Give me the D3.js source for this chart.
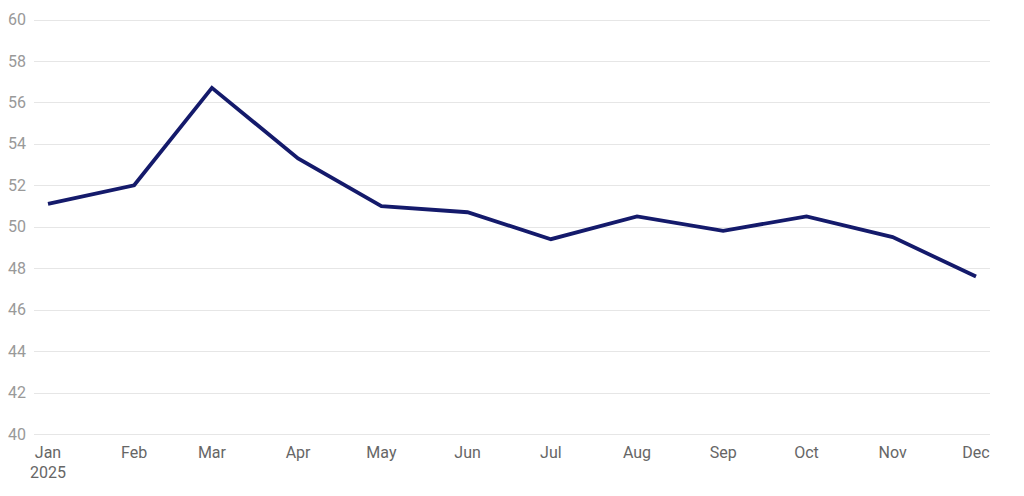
<!DOCTYPE html>
<html><head><meta charset="utf-8">
<script src="https://cdn.jsdelivr.net/npm/d3@7"></script>
<style>body{margin:0;background:#fff;font-family:Roboto,"Liberation Sans",sans-serif}</style>
</head><body><svg id="c" width="1024" height="496"></svg>
<script>
const dates = ["2025-01-01","2025-02-01","2025-03-01","2025-04-01","2025-05-01","2025-06-01","2025-07-01","2025-08-01","2025-09-01","2025-10-01","2025-11-01","2025-12-01"];
const values = [51.1, 52.0, 56.7, 53.3, 51.0, 50.7, 49.4, 50.5, 49.8, 50.5, 49.5, 47.6];
const yTicks = [40,42,44,46,48,50,52,54,56,58,60];
const monthLabels = ["Jan","Feb","Mar","Apr","May","Jun","Jul","Aug","Sep","Oct","Nov","Dec"];

const parse = d3.timeParse("%Y-%m-%d");
const data = dates.map((d,i)=>({date:parse(d), v:values[i]}));
const svg = d3.select("#c");
const x = d3.scaleTime().domain([data[0].date, data[data.length-1].date]).range([48,976]);
const y = d3.scaleLinear().domain([40,60]).range([434,19.5]);

const grid = svg.append("g");
grid.selectAll("line").data(yTicks).join("line")
  .attr("x1",34).attr("x2",990)
  .attr("y1",d=>Math.round(y(d))+0.5).attr("y2",d=>Math.round(y(d))+0.5)
  .attr("stroke","#e6e6e6").attr("stroke-width",1);
grid.selectAll("text").data(yTicks).join("text")
  .attr("x",26).attr("y",d=>y(d)).attr("dy","0.35em")
  .attr("text-anchor","end").attr("fill","#999").attr("font-size",16)
  .text(d=>d);

const xg = svg.append("g");
xg.selectAll("text").data(data).join("text")
  .attr("x",d=>x(d.date)).attr("y",458)
  .attr("text-anchor","middle").attr("fill","#666").attr("font-size",16)
  .text((d,i)=>monthLabels[i]);
xg.append("text").attr("x",x(data[0].date)).attr("y",478)
  .attr("text-anchor","middle").attr("fill","#666").attr("font-size",16).text("2025");

svg.append("path").datum(data)
  .attr("fill","none").attr("stroke","#141a6b").attr("stroke-width",3.8)
  .attr("stroke-linejoin","miter")
  .attr("d",d3.line().x(d=>x(d.date)).y(d=>y(d.v)));
</script></body></html>
